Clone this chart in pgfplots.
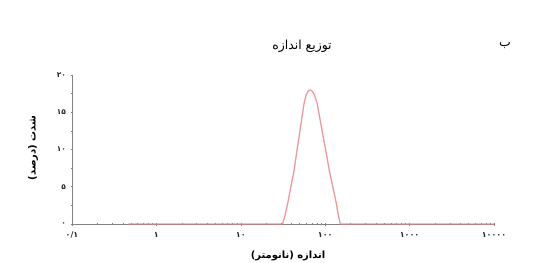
\documentclass[border=0pt]{standalone}
\usepackage{pgfplots}
\pgfplotsset{compat=1.18}
\usepackage{fontspec}
\setmainfont{DejaVu Sans}
\newfontfamily\fa[Script=Arabic]{DejaVu Sans}
\TeXXeTstate=1
\definecolor{curve}{RGB}{235,135,135}
\definecolor{axgray}{RGB}{130,130,130}
\begin{document}
\begin{tikzpicture}
\path[use as bounding box] (0,0) rectangle (533bp,-263bp);
\begin{axis}[
  at={(72bp,-224bp)}, anchor=south west,
  scale only axis, width=422bp, height=149bp,
  xmode=log, xmin=0.1, xmax=10000, ymin=0, ymax=20,
  axis lines=left, axis line style={axgray, line width=0.9pt, -},
  clip=false,
  xtick={0.1,1,10,100,1000,10000},
  xticklabels={{\fa ۰/۱},{\fa ۱},{\fa ۱۰},{\fa ۱۰۰},{\fa ۱۰۰۰},{\fa ۱۰۰۰۰}},
  ytick={0,5,10,15,20},
  yticklabels={{\fa ۰},{\fa ۵},{\fa ۱۰},{\fa ۱۵},{\fa ۲۰}},
  minor y tick num=1,
  tick align=center,
  major tick length=3bp, minor tick length=2.5bp,
  tick style={axgray, line width=0.6pt},
  xticklabel style={font=\fontsize{8}{9}\selectfont\bfseries, yshift=-3bp, text=black!85},
  yticklabel style={font=\fontsize{7.5}{9}\selectfont\bfseries, xshift=-1bp, text=black!85},
]
\addplot[curve, line width=1.3pt, opacity=0.85, line join=round] coordinates {
 (0.46,0) (1,0) (10,0) (31.3,0)
 (33.5,1.2) (36.0,2.8) (39.2,5.0) (42.8,7.25) (45.8,9.5) (49.0,11.7)
 (52.5,14.0) (56.2,16.2) (59,17.2) (62.5,17.8) (66.3,18.0) (70,17.85)
 (74.5,17.35) (80.3,16.2)
 (87,14.0) (94.7,11.7) (103,9.5) (111.6,7.25) (123,5.0) (135.3,2.8)
 (143,1.2) (151,0) (1000,0) (10000,0)
};
\node[font=\fa\fontsize{12.5}{14}\selectfont] at (axis description cs:0.545,1.19) {\beginR توزیع اندازه\endR};
\node[font=\fa\fontsize{12.5}{14}\selectfont] at (axis description cs:1.026,1.20) {\beginR ب\endR};
\node[font=\fa\bfseries\fontsize{10}{12}\selectfont] at (axis description cs:0.512,-0.215) {\beginR اندازه (نانومتر)\endR};
\node[font=\fa\bfseries\fontsize{10}{12}\selectfont, rotate=90] at (axis description cs:-0.092,0.51) {\beginR شدت (درصد)\endR};
\end{axis}
\end{tikzpicture}
\end{document}
